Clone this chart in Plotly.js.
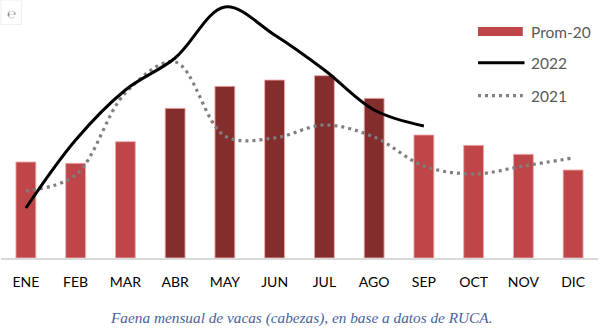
<!DOCTYPE html>
<html>
<head>
<meta charset="utf-8">
<script src="https://cdn.plot.ly/plotly-3.0.1.min.js"></script>
<style>
html,body{margin:0;padding:0;background:#fff;}
#chart{width:602px;height:333px;}
</style>
</head>
<body>
<div id="chart"></div>
<script>
const months = ['ENE','FEB','MAR','ABR','MAY','JUN','JUL','AGO','SEP','OCT','NOV','DIC'];
const prom20 = [28.8, 28.4, 34.9, 44.9, 51.5, 53.4, 54.7, 47.9, 36.9, 33.8, 31.1, 26.4];
const months2022 = ['ENE','FEB','MAR','ABR','MAY','JUN','JUL','AGO','SEP'];
const y2022 = [15.0, 35.4, 50.4, 60.0, 75.3, 66.9, 56.4, 44.4, 39.6];
const y2021 = [20.1, 24.9, 49.5, 58.8, 36.6, 36.0, 39.9, 36.3, 27.6, 25.2, 27.6, 30.0];
const darkMonths = ['ABR','MAY','JUN','JUL','AGO'];

const light = '#BF4648', dark = '#842D2D';
const barColors = months.map(m => darkMonths.includes(m) ? dark : light);

const traces = [
  {type:'bar', name:'Prom-20', x:months, y:prom20,
   marker:{color:barColors, line:{color:'rgba(240,170,170,0.9)', width:1}},
   hoverinfo:'x+y'},
  {type:'scatter', mode:'lines', name:'2021', x:months, y:y2021,
   line:{color:'#7F7F7F', width:3.2, dash:'3px,4px', shape:'spline', smoothing:1}},
  {type:'scatter', mode:'lines', name:'2022', x:months2022, y:y2022,
   line:{color:'#000000', width:3, shape:'spline', smoothing:1}}
];

const font = {family:'Lato, "Noto Sans", sans-serif', color:'#000'};
const legText = {family:'Lato, "Noto Sans", sans-serif', size:15.5, color:'#595959'};

const layout = {
  width:602, height:333,
  margin:{l:1, r:4, t:0, b:75},
  paper_bgcolor:'#fff', plot_bgcolor:'#fff',
  showlegend:false,
  bargap:0.6,
  font:font,
  xaxis:{type:'category', categoryorder:'array', categoryarray:months,
         showline:true, linecolor:'#D9D9D9', linewidth:1.5,
         showgrid:false, zeroline:false, ticks:'',
         tickfont:{family:'Lato, "Noto Sans", sans-serif', size:14, color:'#000'},
         ticklabelstandoff:11, fixedrange:true},
  yaxis:{visible:false, range:[0, 77.4], fixedrange:true},
  shapes:[
    {type:'rect', xref:'paper', yref:'paper', x0:0.799, x1:0.874, y0:0.860, y1:0.895,
     fillcolor:light, line:{width:0}},
    {type:'line', xref:'paper', yref:'paper', x0:0.799, x1:0.877, y0:0.757, y1:0.757,
     line:{color:'#000', width:3}},
    {type:'line', xref:'paper', yref:'paper', x0:0.799, x1:0.874, y0:0.629, y1:0.629,
     line:{color:'#7F7F7F', width:3.2, dash:'3px,4px'}},
    {type:'rect', xref:'paper', yref:'paper', x0:0.0, x1:0.034, y0:0.905, y1:1.0,
     fillcolor:'#fff', line:{color:'#EEEEEE', width:1}}
  ],
  annotations:[
    {xref:'paper', yref:'paper', x:0.884, y:0.877, xanchor:'left', yanchor:'middle',
     text:'Prom-20', showarrow:false, font:legText},
    {xref:'paper', yref:'paper', x:0.884, y:0.755, xanchor:'left', yanchor:'middle',
     text:'2022', showarrow:false, font:legText},
    {xref:'paper', yref:'paper', x:0.884, y:0.627, xanchor:'left', yanchor:'middle',
     text:'2021', showarrow:false, font:legText},
    {xref:'paper', yref:'paper', x:0.503, y:-0.233, xanchor:'center', yanchor:'middle',
     text:'<i>Faena mensual de vacas (cabezas), en base a datos de RUCA.</i>', showarrow:false,
     font:{family:'"Liberation Serif", "DejaVu Serif", serif', size:15.3, color:'#4763A0'}},
    {xref:'paper', yref:'paper', x:0.017, y:0.945, xanchor:'center', yanchor:'middle',
     text:'℮', showarrow:false, font:{family:'"DejaVu Sans", sans-serif', size:11, color:'#888'}}
  ]
};

Plotly.newPlot('chart', traces, layout, {displayModeBar:false, staticPlot:true});
</script>
</body>
</html>
